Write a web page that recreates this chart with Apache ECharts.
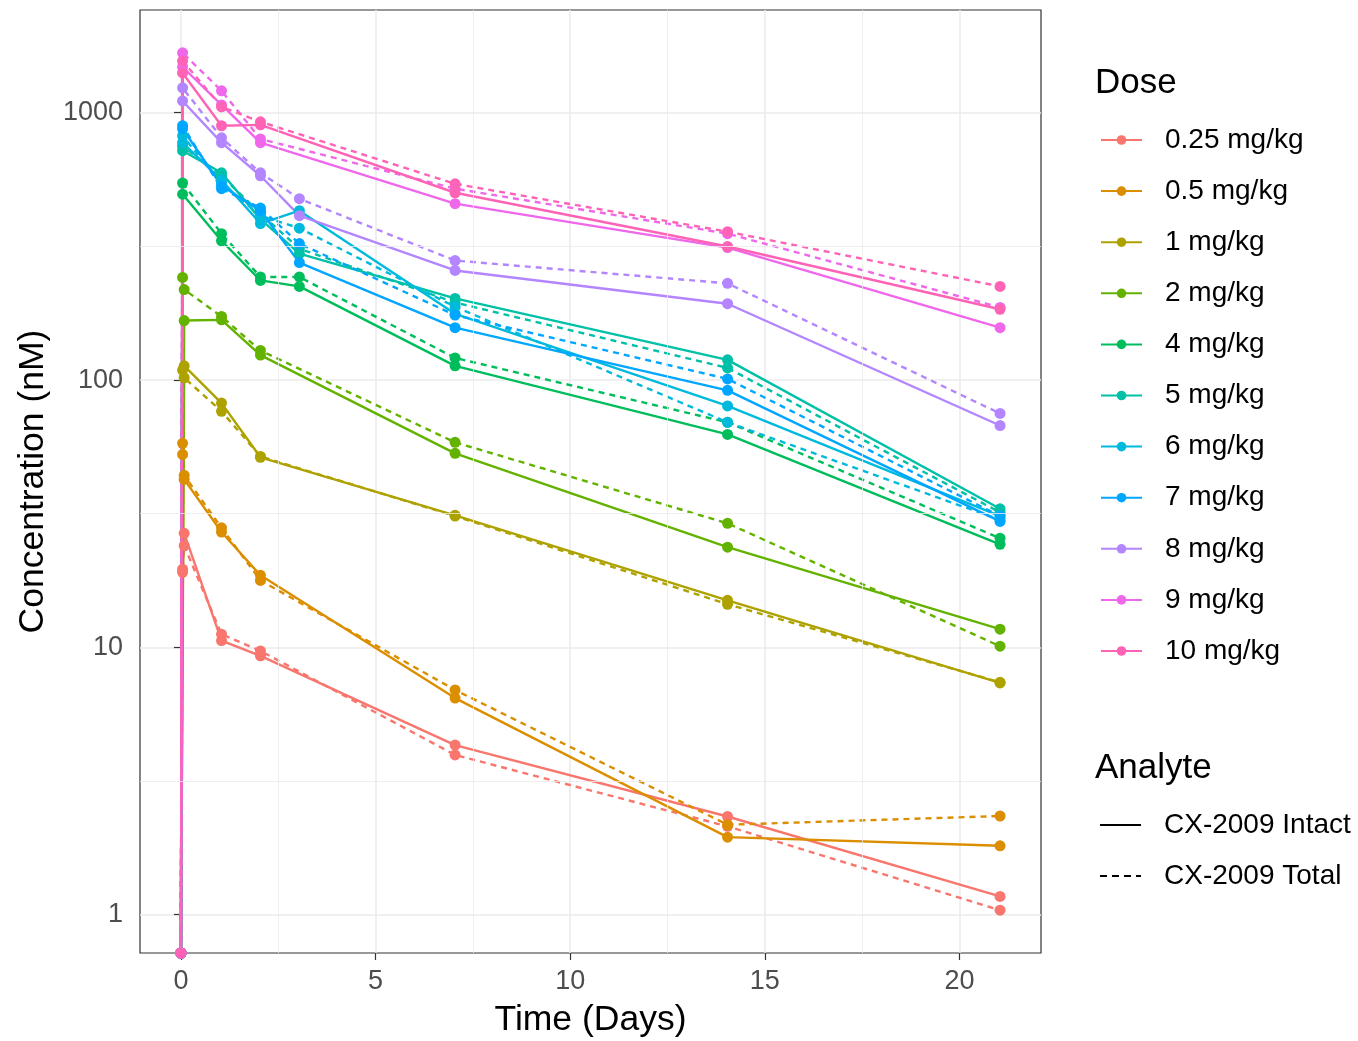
<!DOCTYPE html>
<html>
<head>
<meta charset="utf-8">
<script src="https://cdn.jsdelivr.net/npm/echarts@6/dist/echarts.min.js"></script>
<style>
  html, body { margin: 0; padding: 0; background: #ffffff; }
  #chart { width: 1358px; height: 1041px; }
</style>
</head>
<body>
<div id="chart"></div>
<script>
// Sampling times after dosing (days)
const times = [0, 0.042, 0.083, 1.042, 2.042, 3.042, 7.042, 14.042, 21.042];

const doses = ['0.25 mg/kg', '0.5 mg/kg', '1 mg/kg', '2 mg/kg', '4 mg/kg', '5 mg/kg',
               '6 mg/kg', '7 mg/kg', '8 mg/kg', '9 mg/kg', '10 mg/kg'];

const doseColors = ['#F8766D', '#DB8E00', '#AEA200', '#64B200', '#00BD5C', '#00C1A7',
                    '#00BADE', '#00A6FF', '#B385FF', '#EF67EB', '#FF63B6'];

const analytes = ['CX-2009 Intact', 'CX-2009 Total'];

// CX-2009 Intact concentration (nM), one row per dose, one column per time (null = not sampled)
const intactConc = [
  [0, 19.6, 26.7, 10.6, 9.3, null, 4.31, 2.33, 1.17],
  [0, 52.7, 42.5, 27.0, 18.6, null, 6.46, 1.95, 1.81],
  [0, null, 113, 82.0, 51.4, null, 31.2, 15.0, 7.36],
  [0, null, 167, 168, 124, null, 53.2, 23.7, 11.7],
  [0, 496, null, 332, 236, 224, 113, 62.6, 24.3],
  [0, 721, null, 596, 400, 297, 202, 119, 33.0],
  [0, 773, null, 560, 385, 430, 177, 80.0, 31.0],
  [0, 871, null, 533, 430, 275, 157, 91.5, 29.6],
  [0, 1107, null, 773, 581, 412, 257, 193, 67.6],
  [0, 1483, null, 1070, 773, null, 457, 313, 157],
  [0, 1409, null, 894, 901, null, 502, 316, 184]
];

// CX-2009 Total concentration (nM)
const totalConc = [
  [0, 19.1, 24.0, 11.2, 9.7, null, 3.96, 2.14, 1.04],
  [0, 58.0, 44.0, 28.0, 17.8, null, 6.93, 2.17, 2.34],
  [0, 109, 102, 76.4, 51.8, null, 31.0, 14.5, 7.40],
  [0, 242, 218, 173, 129, null, 58.5, 29.1, 10.1],
  [0, 546, null, 353, 243, 243, 121, 69.5, 25.6],
  [0, 750, null, 580, 420, 310, 195, 111, 32.0],
  [0, 820, null, 545, 412, 370, 188, 69.5, 30.0],
  [0, 894, null, 520, 440, 324, 175, 101, 31.0],
  [0, 1239, null, 806, 596, 477, 280, 230, 75.0],
  [0, 1675, null, 1208, 798, null, 520, 353, 187],
  [0, 1563, null, 1052, 925, null, 542, 359, 224]
];

const yMajorTicks = [1, 10, 100, 1000];
const xMajorTicks = [0, 5, 10, 15, 20];

const FONT = '"Liberation Sans", Arial, Helvetica, sans-serif';

// Axis ranges: data range padded by 5% on each side (log space for y)
const positive = intactConc.concat(totalConc).flat().filter(v => v != null && v > 0);
const logLo = Math.log10(Math.min(...positive));
const logHi = Math.log10(Math.max(...positive));
const logPad = (logHi - logLo) * 0.05;
const yMin = Math.pow(10, logLo - logPad);
const yMax = Math.pow(10, logHi + logPad);
const xPad = (times[times.length - 1] - times[0]) * 0.05;
const xMin = times[0] - xPad;
const xMax = times[times.length - 1] + xPad;

// Pre-dose samples (0 nM) cannot sit on a log scale; they are pinned to the axis floor
function toPoints(values) {
  const pts = [];
  values.forEach((v, i) => {
    if (v == null) return;
    pts.push([times[i], v === 0 ? yMin : v]);
  });
  return pts;
}

const series = [];

// Minor grid lines halfway between major breaks
const minorLines = [];
for (let e = -1; e <= 4; e++) {
  const v = Math.pow(10, e + 0.5);
  if (v > yMin && v < yMax) minorLines.push({ yAxis: v });
}
for (let t = -2.5; t <= 25; t += 5) {
  if (t > xMin && t < xMax) minorLines.push({ xAxis: t });
}
series.push({
  type: 'line',
  name: 'minor-grid',
  data: [],
  z: 1,
  silent: true,
  markLine: {
    silent: true,
    symbol: ['none', 'none'],
    label: { show: false },
    lineStyle: { color: '#EBEBEB', width: 0.8, type: 'solid' },
    emphasis: { disabled: true },
    animation: false,
    data: minorLines
  }
});

doses.forEach((dose, i) => {
  [intactConc[i], totalConc[i]].forEach((vals, k) => {
    series.push({
      type: 'line',
      name: dose,
      data: toPoints(vals),
      connectNulls: true,
      color: doseColors[i],
      symbol: 'circle',
      symbolSize: 11,
      showSymbol: true,
      showAllSymbol: true,
      clip: true,
      z: 3,
      lineStyle: { width: 2.4, type: k === 0 ? 'solid' : [6, 5], color: doseColors[i] },
      itemStyle: { color: doseColors[i] },
      emphasis: { disabled: true }
    });
  });
});

// Line-type key entries
series.push({
  type: 'line', name: analytes[0], data: [], color: '#000000',
  symbol: 'none', lineStyle: { width: 2.2, color: '#000000' }
});
series.push({
  type: 'line', name: analytes[1], data: [], color: '#000000',
  symbol: 'none', lineStyle: { width: 2.2, color: '#000000', type: [6, 5] }
});

const legendText = { fontSize: 28, color: '#000000', fontFamily: FONT, lineHeight: 30, padding: [0, 0, 0, 18] };
const titleText = { fontSize: 35, fontWeight: 'normal', color: '#000000', fontFamily: FONT };

const option = {
  animation: false,
  backgroundColor: '#ffffff',
  textStyle: { fontFamily: FONT },
  title: [
    { text: 'Dose', left: 1095, top: 66, padding: 0, textStyle: titleText },
    { text: 'Analyte', left: 1095, top: 751, padding: 0, textStyle: titleText }
  ],
  legend: [
    {
      data: doses,
      orient: 'vertical',
      left: 1100, top: 125, padding: 0,
      itemWidth: 41, itemHeight: 12, itemGap: 21.1,
      selectedMode: false,
      textStyle: legendText
    },
    {
      data: [
        { name: analytes[0], icon: 'path://M0,0H41V2.2H0Z' },
        { name: analytes[1], icon: 'path://M0,0H7V2.2H0Z M12,0H19V2.2H12Z M24,0H31V2.2H24Z M36,0H41V2.2H36Z' }
      ],
      orient: 'vertical',
      left: 1100, top: 810, padding: 0,
      itemWidth: 41, itemHeight: 2.2, itemGap: 21,
      selectedMode: false,
      itemStyle: { color: '#000000' },
      textStyle: legendText
    }
  ],
  grid: {
    left: 140, top: 10, width: 901, height: 943,
    outerBoundsMode: 'none',
    containLabel: false,
    show: true, borderColor: '#333333', borderWidth: 1.2, backgroundColor: 'transparent'
  },
  xAxis: {
    type: 'value',
    min: xMin, max: xMax,
    name: 'Time (Days)',
    nameLocation: 'middle',
    nameGap: 49,
    nameTextStyle: { fontSize: 35.5, color: '#000000', fontFamily: FONT },
    axisLine: { show: false },
    axisTick: { show: true, length: 7, lineStyle: { color: '#333333', width: 1.2 }, customValues: xMajorTicks },
    axisLabel: {
      fontSize: 27, color: '#4D4D4D', margin: 15, fontFamily: FONT,
      formatter: v => (xMajorTicks.some(t => Math.abs(t - v) < 1e-6) ? String(Math.round(v)) : '')
    },
    splitLine: { show: true, lineStyle: { color: '#EBEBEB', width: 1.6 } },
    minorTick: { show: false },
    minorSplitLine: { show: false }
  },
  yAxis: {
    type: 'log',
    logBase: 10,
    min: yMin, max: yMax,
    name: 'Concentration (nM)',
    nameLocation: 'middle',
    nameGap: 89,
    nameTextStyle: { fontSize: 35.5, color: '#000000', fontFamily: FONT },
    axisLine: { show: false },
    axisTick: { show: true, length: 7, lineStyle: { color: '#333333', width: 1.2 }, customValues: yMajorTicks },
    axisLabel: {
      fontSize: 27, color: '#4D4D4D', margin: 17, fontFamily: FONT, padding: [4, 0, 0, 0],
      formatter: v => {
        const r = Math.round(v);
        return yMajorTicks.some(t => Math.abs(t - v) / t < 1e-6) ? String(r) : '';
      }
    },
    splitLine: { show: true, lineStyle: { color: '#EBEBEB', width: 1.6 } }
  },
  series: series
};

const chart = echarts.init(document.getElementById('chart'), null, { renderer: 'canvas' });
chart.setOption(option);
</script>
</body>
</html>
